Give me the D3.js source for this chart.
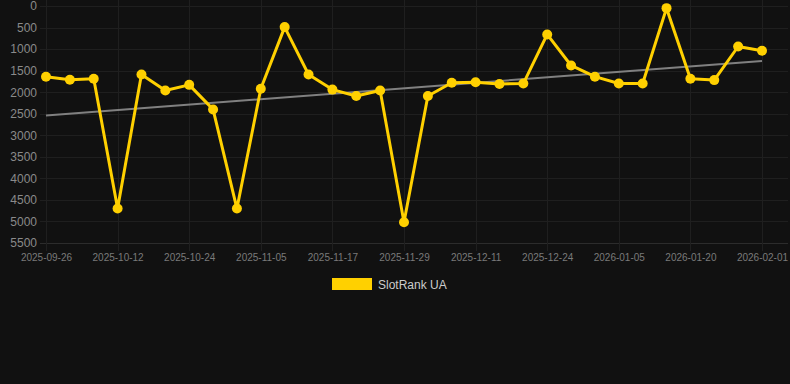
<!DOCTYPE html>
<html>
<head>
<meta charset="utf-8">
<script src="https://cdn.jsdelivr.net/npm/d3@7"></script>
<style>
  html, body { margin: 0; padding: 0; background: #111111; }
  svg { display: block; font-family: "Liberation Sans", Arial, sans-serif; }
</style>
</head>
<body>
<div class="container"></div>
<script>
const w = 790;
const h = 384;

const dates = [
  "2025-09-26", "2025-10-01", "2025-10-06", "2025-10-12", "2025-10-16", "2025-10-20",
  "2025-10-24", "2025-10-28", "2025-11-01", "2025-11-05", "2025-11-09", "2025-11-13",
  "2025-11-17", "2025-11-21", "2025-11-25", "2025-11-29", "2025-12-03", "2025-12-07",
  "2025-12-11", "2025-12-15", "2025-12-19", "2025-12-24", "2025-12-28", "2026-01-01",
  "2026-01-05", "2026-01-10", "2026-01-15", "2026-01-20", "2026-01-24", "2026-01-28",
  "2026-02-01"
];
const ranks = [
  1640, 1710, 1690, 4700, 1590, 1960, 1830, 2400, 4700, 1920,
  490, 1590, 1940, 2090, 1960, 5020, 2090, 1780, 1770, 1810,
  1800, 660, 1380, 1640, 1800, 1800, 50, 1690, 1720, 940,
  1040
];
const yTicks = [0, 500, 1000, 1500, 2000, 2500, 3000, 3500, 4000, 4500, 5000, 5500];
const seriesName = "SlotRank UA";

const padLeft = 46, padRight = 788, padTop = 6, padBottom = 243;
const step = (762 - padLeft) / (dates.length - 1);

const svg = d3.select(".container").append("svg")
  .attr("width", w)
  .attr("height", h);

// category axis, one slot per date
const xScale = d3.scalePoint()
  .domain(dates)
  .range([padLeft, padLeft + step * (dates.length - 1)]);

const yScale = d3.scaleLinear()
  .domain([0, 5500])
  .range([padTop, padBottom]);

const tickDates = dates.filter((d, i) => i % 3 === 0);

// grid
svg.append("g")
  .selectAll("line")
  .data(yTicks)
  .enter()
  .append("line")
  .attr("x1", padLeft - 6)
  .attr("x2", padRight)
  .attr("y1", d => Math.round(yScale(d)) + 0.5)
  .attr("y2", d => Math.round(yScale(d)) + 0.5)
  .attr("stroke", d => d === 5500 ? "#2c2c2c" : "#1f1f1f");

svg.append("g")
  .selectAll("line")
  .data(tickDates)
  .enter()
  .append("line")
  .attr("x1", d => Math.round(xScale(d)) + 0.5)
  .attr("x2", d => Math.round(xScale(d)) + 0.5)
  .attr("y1", 0)
  .attr("y2", padBottom + 8)
  .attr("stroke", "#1f1f1f");

// y axis labels
const yAxis = d3.axisLeft(yScale)
  .tickValues(yTicks)
  .tickFormat(d3.format("d"))
  .tickSize(0)
  .tickPadding(9);
const yG = svg.append("g")
  .attr("transform", `translate(${padLeft},0)`)
  .call(yAxis);
yG.select(".domain").remove();
yG.selectAll("text")
  .attr("fill", "#8a8a8a")
  .style("font-size", "12px")
  .style("font-family", "'Liberation Sans', Arial, sans-serif");

// x axis labels
const xAxis = d3.axisBottom(xScale).tickValues(tickDates).tickSize(0).tickPadding(11);
const xG = svg.append("g")
  .attr("transform", `translate(0,${padBottom})`)
  .call(xAxis);
xG.select(".domain").remove();
xG.selectAll("text")
  .attr("fill", "#7a7a7a")
  .style("font-size", "10px")
  .style("font-family", "'Liberation Sans', Arial, sans-serif");

// trend line (least squares over the series)
const n = ranks.length;
const mx = d3.mean(ranks, (d, i) => i);
const my = d3.mean(ranks);
const slope = d3.sum(ranks, (d, i) => (i - mx) * (d - my)) / d3.sum(ranks, (d, i) => (i - mx) * (i - mx));
const icpt = my - slope * mx;
svg.append("line")
  .attr("x1", xScale(dates[0]))
  .attr("y1", yScale(icpt))
  .attr("x2", xScale(dates[n - 1]))
  .attr("y2", yScale(icpt + slope * (n - 1)))
  .attr("stroke", "#808080")
  .attr("stroke-width", 2);

// series
const line = d3.line()
  .x((d, i) => xScale(dates[i]))
  .y(d => yScale(d));

svg.append("path")
  .datum(ranks)
  .attr("d", line)
  .attr("fill", "none")
  .attr("stroke", "#ffd000")
  .attr("stroke-width", 3)
  .attr("stroke-linejoin", "round");

svg.append("g")
  .selectAll("circle")
  .data(ranks)
  .enter()
  .append("circle")
  .attr("cx", (d, i) => xScale(dates[i]))
  .attr("cy", d => yScale(d))
  .attr("r", 5)
  .attr("fill", "#ffd000");

// legend
const lg = svg.append("g").attr("transform", "translate(332,278)");
lg.append("rect")
  .attr("width", 40)
  .attr("height", 12)
  .attr("fill", "#ffd000");
lg.append("text")
  .attr("x", 46)
  .attr("y", 10.5)
  .attr("fill", "#cccccc")
  .style("font-size", "12px")
  .text(seriesName);
</script>
</body>
</html>
